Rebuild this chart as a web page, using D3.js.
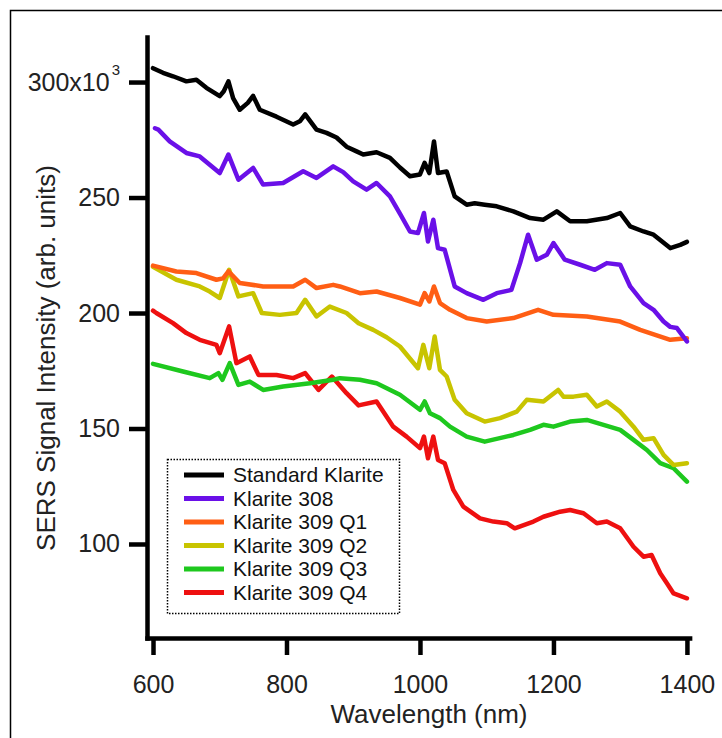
<!DOCTYPE html>
<html>
<head>
<meta charset="utf-8">
<script src="https://cdn.jsdelivr.net/npm/d3@7"></script>
<style>
  body { margin: 0; background: #fff; }
  svg { display: block; font-family: Arial, "Liberation Sans", sans-serif; }
</style>
</head>
<body>
<svg id="chart" width="722" height="738"></svg>
<script>
// series names, in legend order
var seriesNames = ["Standard Klarite", "Klarite 308", "Klarite 309 Q1",
                   "Klarite 309 Q2", "Klarite 309 Q3", "Klarite 309 Q4"];
var seriesColors = ["#000000", "#6a10e8", "#ff5e14", "#c8c400", "#1ec81e", "#ee1010"];

// [wavelength nm, intensity x10^3]
var standardKlarite = [[600,306],[615,304],[630,302.5],[650,300.3],[665,301],[680,297.5],[700,293.9],[706,296],
  [713,300.3],[720,293],[730,288],[742,291],[750,294],[760,288],[785,285],[810,281.6],[820,283],[828,286],
  [845,279.4],[860,278],[875,276],[890,272],[905,270],[915,268.6],[935,269.6],[955,267.2],[970,263],[985,259.2],
  [1000,260],[1007,265],[1014,260.6],[1021,274.3],[1027,260.6],[1040,261.3],[1052,250.5],[1070,246.9],[1082,247.5],
  [1097,246.9],[1115,246.2],[1140,244],[1165,241.1],[1185,240.4],[1205,244],[1225,239.7],[1250,239.7],[1280,241.1],
  [1300,243.3],[1315,237.5],[1335,235.3],[1350,233.9],[1375,228.1],[1390,229.5],[1400,230.8]];

var klarite308 = [[603,280],[608,279.4],[625,274.3],[650,269.3],[670,267.8],[700,260.6],[713,268.6],[728,257.7],
  [750,262.8],[765,255.6],[795,256.3],[825,261.4],[845,258.5],[870,263.5],[885,261],[900,257],[920,253.4],[935,256.3],
  [955,250.5],[970,243],[985,235.3],[997,234.6],[1006,243.3],[1012,231],[1020,240.4],[1027,228.1],[1037,227.4],
  [1052,211.5],[1070,208.6],[1095,205.7],[1115,208.6],[1137,210],[1150,221.6],[1162,233.9],[1175,223.1],[1190,225.2],
  [1200,230.3],[1217,223.1],[1240,220.9],[1262,218.7],[1280,221.6],[1300,220.9],[1315,211.5],[1335,204.3],[1350,201.4],
  [1365,196.3],[1375,194],[1385,193.5],[1400,187.7]];

var klarite309Q1 = [[600,220.5],[635,218],[665,217.3],[695,214.4],[705,215],[713,218],[730,213],[765,211.5],[810,211.5],
  [828,214.4],[845,210.8],[870,212.2],[880,211.5],[910,208.6],[935,209.3],[970,206.5],[1000,203.6],[1007,208.6],
  [1014,205],[1021,211.5],[1030,204.3],[1045,201.4],[1070,197.8],[1100,196.3],[1140,197.8],[1177,201.4],[1200,199.2],
  [1250,198.5],[1300,196.3],[1330,192.7],[1375,188.4],[1400,189.1]];

var klarite309Q2 = [[600,220],[635,214.4],[670,211.5],[685,209.3],[700,206.5],[714,218.7],[728,207.2],[750,208.6],
  [763,200],[790,199.2],[815,200],[828,205.7],[845,198.5],[865,202.8],[890,200],[908,195.6],[930,192.7],[950,189.5],
  [970,185.5],[997,176.1],[1005,186.2],[1014,176.1],[1022,189.8],[1030,175.4],[1040,172.5],[1052,162.4],[1070,156.6],
  [1097,153],[1120,154.5],[1145,157.3],[1160,162.4],[1185,161.7],[1207,166.7],[1215,163.8],[1230,163.8],[1250,164.6],
  [1265,159.5],[1280,161.7],[1300,157.3],[1320,150.8],[1335,145.1],[1350,145.8],[1365,138.6],[1380,134.2],[1400,135]];

var klarite309Q3 = [[600,178],[645,174.7],[685,171.8],[698,174],[704,171.1],[715,178.3],[728,168.9],[745,170.3],
  [765,166.7],[795,168.2],[835,169.6],[870,171.1],[880,171.8],[910,171.1],[935,169.6],[970,164.6],[1000,158.1],
  [1007,161.7],[1015,156.6],[1030,154.5],[1045,150.8],[1070,146.5],[1097,144.3],[1140,147.2],[1165,149.4],[1185,151.6],
  [1200,150.8],[1225,153],[1250,153.7],[1275,151.6],[1300,149.4],[1320,145.1],[1340,140.7],[1360,135],[1380,132.8],
  [1400,127]];

var klarite309Q4 = [[600,201],[605,200],[630,195.6],[650,191.3],[670,188.4],[695,186.2],[700,182.6],[714,194.2],
  [725,178.3],[745,181.2],[758,173.2],[785,173.2],[810,171.8],[828,174],[848,166.7],[868,172.5],[890,165.3],[908,160],
  [935,161.7],[960,150.8],[980,146.5],[1000,141.5],[1006,146.5],[1012,137.1],[1020,146.5],[1027,136.4],[1037,135],
  [1050,123.4],[1065,116.2],[1090,111.1],[1110,109.7],[1130,109],[1142,106.8],[1170,109.7],[1185,111.8],[1210,114],
  [1225,114.7],[1245,113.3],[1265,109],[1280,109.7],[1300,106.8],[1320,98.8],[1335,94.5],[1347,95.2],[1360,87.3],
  [1370,83],[1380,78.6],[1400,76.5]];

var allSeries = [standardKlarite, klarite308, klarite309Q1, klarite309Q2, klarite309Q3, klarite309Q4];

var xTicks = [600, 800, 1000, 1200, 1400];
var yTicks = [100, 150, 200, 250, 300];

var svg = d3.select("#chart");

// outer frame
svg.append("rect")
    .attr("x", 10.5).attr("y", 10.5)
    .attr("width", 730).attr("height", 740)
    .attr("fill", "none").attr("stroke", "#000").attr("stroke-width", 1.5);

var x = d3.scaleLinear().domain([591, 1404]).range([147, 689.6]);
var y = d3.scaleLinear().domain([59.3, 319.5]).range([638, 37]);

var line = d3.line()
    .x(function (d) { return x(d[0]); })
    .y(function (d) { return y(d[1]); });

// lines, drawn bottom series first so black sits on top
var lineGroup = svg.append("g");
for (var i = allSeries.length - 1; i >= 0; i--) {
    lineGroup.append("path")
        .datum(allSeries[i])
        .attr("d", line)
        .attr("fill", "none")
        .attr("stroke", seriesColors[i])
        .attr("stroke-width", 4.5)
        .attr("stroke-linejoin", "round")
        .attr("stroke-linecap", "round");
}

// axes
var xAxis = svg.append("g")
    .attr("transform", "translate(0,638)")
    .call(d3.axisBottom(x).tickValues(xTicks).tickFormat(d3.format("d"))
        .tickSize(17).tickPadding(20).tickSizeOuter(0));

var yAxis = svg.append("g")
    .attr("transform", "translate(147,0)")
    .call(d3.axisLeft(y).tickValues(yTicks).tickFormat(d3.format("d"))
        .tickSize(18).tickPadding(9).tickSizeOuter(0));

[xAxis, yAxis].forEach(function (g) {
    g.selectAll("path.domain").attr("stroke-width", 4.5).attr("stroke-linecap", "square");
    g.selectAll(".tick line").attr("stroke-width", 4.5);
    g.selectAll("text").attr("font-size", 25).attr("fill", "#222")
        .attr("font-family", "Arial, 'Liberation Sans', sans-serif");
});

// 300x10^3 label with superscript
yAxis.selectAll(".tick text").filter(function (d) { return d === 300; })
    .text("300x10")
    .append("tspan")
    .attr("dy", "-16").attr("dx", "2").attr("font-size", 15)
    .text("3");

// axis titles
svg.append("text")
    .attr("x", 429).attr("y", 723)
    .attr("text-anchor", "middle")
    .attr("font-size", 26).attr("fill", "#222")
    .text("Wavelength (nm)");

svg.append("text")
    .attr("transform", "translate(55,358) rotate(-90)")
    .attr("text-anchor", "middle")
    .attr("font-size", 26).attr("fill", "#222")
    .text("SERS Signal Intensity (arb. units)");

// legend
var legend = svg.append("g");
legend.append("rect")
    .attr("x", 167.5).attr("y", 459.5)
    .attr("width", 232).attr("height", 154)
    .attr("fill", "#fff").attr("stroke", "#000")
    .attr("stroke-width", 1.5).attr("stroke-dasharray", "1.5 1.5");

var rows = legend.selectAll("g.row")
    .data(seriesNames)
    .enter().append("g")
    .attr("class", "row")
    .attr("transform", function (d, i) { return "translate(0," + (475 + i * 23.5) + ")"; });

rows.append("line")
    .attr("x1", 184).attr("x2", 224)
    .attr("stroke", function (d, i) { return seriesColors[i]; })
    .attr("stroke-width", 5);

rows.append("text")
    .attr("x", 233).attr("dy", "0.35em")
    .attr("font-size", 21).attr("fill", "#111")
    .text(function (d) { return d; });
</script>
</body>
</html>
